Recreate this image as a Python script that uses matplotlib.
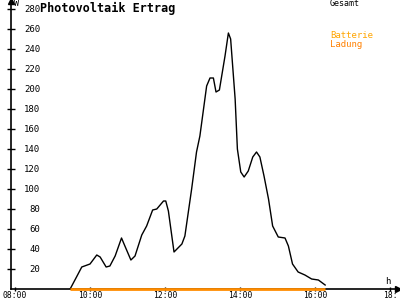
import matplotlib.pyplot as plt

# time of day in hours, power in W
t = [9.47, 9.64, 9.78, 10.0, 10.18, 10.27, 10.43, 10.53, 10.67, 10.84, 10.93,
     11.09, 11.2, 11.38, 11.51, 11.67, 11.78, 11.96, 12.02, 12.09, 12.24,
     12.45, 12.53, 12.71, 12.84, 12.93, 13.11, 13.2, 13.29, 13.36, 13.45,
     13.6, 13.69, 13.75, 13.87, 13.93, 14.02, 14.11, 14.22, 14.34, 14.44,
     14.53, 14.64, 14.76, 14.87, 15.02, 15.2, 15.29, 15.4, 15.55, 15.73,
     15.91, 16.09, 16.27]
gesamt = [0, 12, 22, 25, 34, 32, 22, 23, 33, 51, 43,
          29, 33, 54, 63, 79, 80, 88, 88, 78, 37,
          45, 53, 100, 137, 153, 203, 211, 211, 197, 199,
          233, 256, 250, 190, 140, 117, 112, 118, 132, 137,
          132, 113, 90, 63, 52, 51, 43, 25, 17, 14,
          10, 9, 4]
ladung_start = 9.47
ladung_end = 16.27

yticks = list(range(20, 281, 20))
xticks = [8, 10, 12, 14, 16, 18]
xlabels = ['08:00', '10:00', '12:00', '14:00', '16:00', '18:']

font = 'DejaVu Sans Mono'

fig = plt.figure(figsize=(4, 3), dpi=100)
ax = fig.add_axes([11 / 400, 11 / 300, 387 / 400, 289 / 300])
ax.set_xlim(7.893, 18.213)
ax.set_ylim(0, 289)

ax.plot(t, gesamt, color='black', lw=1)
ax.plot([ladung_start, ladung_end], [0, 0], color='#ff8c00', lw=2,
        solid_capstyle='butt', zorder=5, clip_on=False)

for s in ['top', 'right']:
    ax.spines[s].set_visible(False)
ax.spines['left'].set_linewidth(1.2)
ax.spines['bottom'].set_linewidth(1.2)

# arrow heads on the axes
ax.plot([7.893], [288], marker='^', color='black', ms=4, clip_on=False)
ax.plot([18.2], [0], marker='>', color='black', ms=4, clip_on=False)

ax.set_yticks(yticks)
ax.set_yticklabels([str(v) for v in yticks], fontfamily=font, fontsize=6.5)
ax.tick_params(axis='y', direction='inout', length=6, pad=-24, width=1)
ax.set_xticks(xticks)
ax.set_xticklabels(xlabels, fontfamily=font, fontsize=5.8)
ax.tick_params(axis='x', direction='inout', length=3, pad=0, width=1)

fig.text(40 / 400, 1 - 8 / 300, 'Photovoltaik Ertrag', fontfamily=font,
         fontweight='bold', fontsize=8.5, va='center')
fig.text(14 / 400, 1 - 4 / 300, 'W', fontfamily=font, fontsize=6, va='center')
fig.text(385 / 400, 1 - 282 / 300, 'h', fontfamily=font, fontsize=6.5, va='center')
fig.text(330 / 400, 1 - 4 / 300, 'Gesamt', fontfamily=font, fontsize=6, va='center')
fig.text(330 / 400, 1 - 36 / 300, 'Batterie', fontfamily=font, fontsize=6.5,
         color='#ffa500', va='center')
fig.text(330 / 400, 1 - 44 / 300, 'Ladung', fontfamily=font, fontsize=6.5,
         color='#ff8000', va='center')

fig.savefig('out.png', dpi=100)
